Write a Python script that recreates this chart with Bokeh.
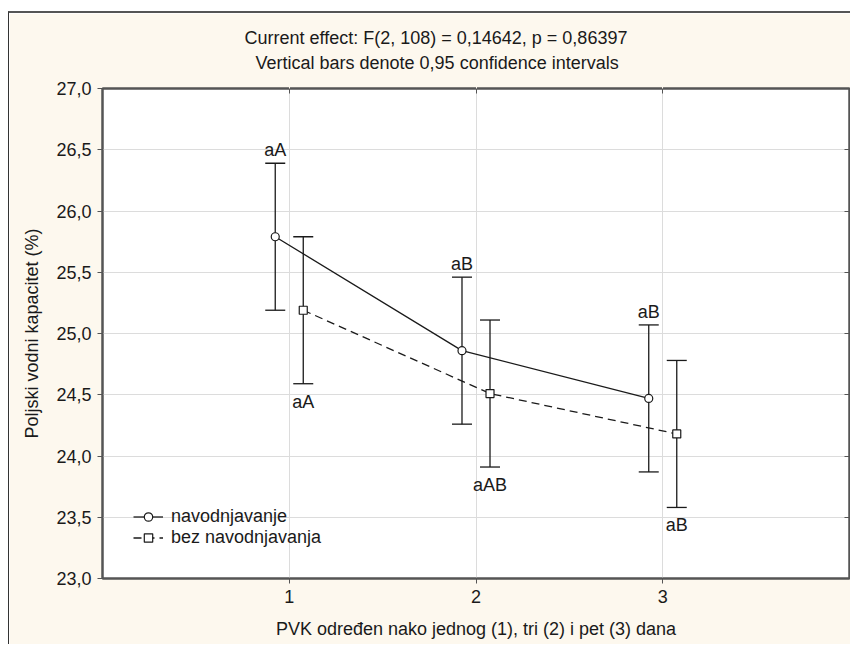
from bokeh.plotting import figure
from bokeh.models import (ColumnDataSource, Whisker, TeeHead, Title, LinearAxis,
                          FixedTicker, Range1d)
from bokeh.transform import dodge
from bokeh.core.properties import value
from bokeh.embed import file_html
from bokeh.resources import INLINE

# ---- data ----
days = [1, 2, 3]
nav_mean = [25.79, 24.86, 24.47]
nav_ci = [0.60, 0.60, 0.60]
bez_mean = [25.19, 24.51, 24.18]
bez_ci = [0.60, 0.60, 0.60]
nav_letters = ["aA", "aB", "aB"]
bez_letters = ["aA", "aAB", "aB"]
series_names = ["navodnjavanje", "bez navodnjavanja"]
y_ticks = [23.0, 23.5, 24.0, 24.5, 25.0, 25.5, 26.0, 26.5, 27.0]
x_ticks = [1, 2, 3]
title_1 = "Current effect: F(2, 108) = 0,14642, p = 0,86397"
title_2 = "Vertical bars denote 0,95 confidence intervals"
x_title = "PVK određen nako jednog (1), tri (2) i pet (3) dana"
y_title = "Poljski vodni kapacitet (%)"

FONT = "Liberation Sans"
FS = "18px"
INK = "#1a1a1a"
CREAM = "#fdf8ee"
GRID = "#dcdcdc"
FRAME = "#555555"

src = ColumnDataSource(dict(
    day=days,
    nav=nav_mean,
    nav_hi=[m + c for m, c in zip(nav_mean, nav_ci)],
    nav_lo=[m - c for m, c in zip(nav_mean, nav_ci)],
    bez=bez_mean,
    bez_hi=[m + c for m, c in zip(bez_mean, bez_ci)],
    bez_lo=[m - c for m, c in zip(bez_mean, bez_ci)],
    nav_lab=nav_letters,
    bez_lab=bez_letters,
))

p = figure(width=842, height=633, output_backend="svg", toolbar_location=None,
           x_range=Range1d(0, 4), y_range=Range1d(23, 27),
           min_border_left=93, min_border_right=2, min_border_top=75,
           min_border_bottom=68)
p.styles = {"margin-left": "8px", "margin-top": "11px",
            "border-left": "1px solid #333333", "border-top": "2px solid #555555"}
p.background_fill_color = "white"
p.border_fill_color = CREAM
p.outline_line_color = FRAME
p.outline_line_width = 2

# grid
p.xgrid.ticker = FixedTicker(ticks=x_ticks)
p.ygrid.ticker = FixedTicker(ticks=y_ticks)
p.xgrid.grid_line_color = GRID
p.ygrid.grid_line_color = GRID

# axes
for ax in (p.xaxis[0], p.yaxis[0]):
    ax.axis_line_color = FRAME
    ax.axis_line_width = 2
    ax.major_tick_line_color = FRAME
    ax.major_tick_in = 0
    ax.major_tick_out = 5
    ax.minor_tick_line_color = None
    ax.major_label_text_font = FONT
    ax.major_label_text_font_size = FS
    ax.major_label_text_color = INK
    ax.axis_label_text_font = FONT
    ax.axis_label_text_font_size = FS
    ax.axis_label_text_font_style = "normal"
    ax.axis_label_text_color = INK

p.xaxis.ticker = FixedTicker(ticks=x_ticks)
p.xaxis.major_label_standoff = 6
p.xaxis.axis_label = x_title
p.xaxis.axis_label_standoff = 13

p.yaxis.ticker = FixedTicker(ticks=y_ticks)
p.yaxis.major_label_overrides = {t: f"{t:.1f}".replace(".", ",") for t in y_ticks}
p.yaxis.major_label_standoff = 6
p.yaxis.axis_label = y_title
p.yaxis.axis_label_standoff = 11

# mirrored inner ticks on top and right
top = LinearAxis(ticker=FixedTicker(ticks=x_ticks), major_label_text_font_size="0px",
                 major_label_text_color=None,
                 axis_line_color=FRAME, axis_line_width=2, major_tick_in=5,
                 major_tick_out=0, major_tick_line_color=FRAME,
                 minor_tick_line_color=None, major_label_standoff=0)
# invisible spacer between the frame and the two title lines
spacer = LinearAxis(ticker=FixedTicker(ticks=x_ticks), major_label_text_font_size="0px",
                    major_label_text_color=None, axis_line_color=None,
                    major_tick_in=0, major_tick_out=13, major_tick_line_color=CREAM,
                    minor_tick_line_color=None, major_label_standoff=0)
right = LinearAxis(ticker=FixedTicker(ticks=y_ticks), major_label_text_font_size="0px",
                   major_label_text_color=None,
                   axis_line_color=FRAME, axis_line_width=2, major_tick_in=5,
                   major_tick_out=0, major_tick_line_color=FRAME,
                   minor_tick_line_color=None, major_label_standoff=0)
p.add_layout(right, "right")

t2 = Title(text=title_2, align="left", offset=153, text_font=FONT,
           text_font_size=FS, text_font_style="normal", text_color=INK, standoff=5)
t1 = Title(text=title_1, align="left", offset=142, text_font=FONT,
           text_font_size=FS, text_font_style="normal", text_color=INK, standoff=1)
p.above = [top, spacer, t2, t1]

OFF = 0.075
x_nav = dodge("day", -OFF)
x_bez = dodge("day", OFF)

# lines
p.line(x=x_nav, y="nav", source=src, line_color=INK, line_width=1.3,
       legend_label=series_names[0])
p.line(x=x_bez, y="bez", source=src, line_color=INK, line_width=1.3,
       line_dash="8 5", legend_label=series_names[1])

# error bars
for base, up, lo in ((x_nav, "nav_hi", "nav_lo"), (x_bez, "bez_hi", "bez_lo")):
    w = Whisker(source=src, base=base, upper=up, lower=lo, dimension="height",
                line_color=INK, line_width=1.3,
                upper_head=TeeHead(size=20, line_color=INK, line_width=1.3),
                lower_head=TeeHead(size=20, line_color=INK, line_width=1.3))
    p.add_layout(w)

# markers
p.scatter(x=x_nav, y="nav", source=src, marker="circle", size=8,
          fill_color="white", line_color=INK, line_width=1.2,
          legend_label=series_names[0])
p.scatter(x=x_bez, y="bez", source=src, marker="square", size=8,
          fill_color="white", line_color=INK, line_width=1.2,
          legend_label=series_names[1])

# letters
p.text(x=x_nav, y="nav_hi", text="nav_lab", source=src, text_align="center",
       text_baseline="middle", y_offset=-13, text_font=value(FONT),
       text_font_size=FS, text_color=INK)
p.text(x=x_bez, y="bez_lo", text="bez_lab", source=src, text_align="center",
       text_baseline="middle", y_offset=18, text_font=value(FONT),
       text_font_size=FS, text_color=INK)

# legend
lg = p.legend[0]
lg.location = (31, 30)
lg.background_fill_alpha = 0
lg.border_line_color = None
lg.padding = 0
lg.margin = 0
lg.spacing = 0
lg.glyph_width = 30
lg.glyph_height = 21
lg.label_height = 21
lg.label_standoff = 8
lg.label_text_font = FONT
lg.label_text_font_size = FS
lg.label_text_color = INK

open("out.html", "w").write(file_html(p, INLINE))
